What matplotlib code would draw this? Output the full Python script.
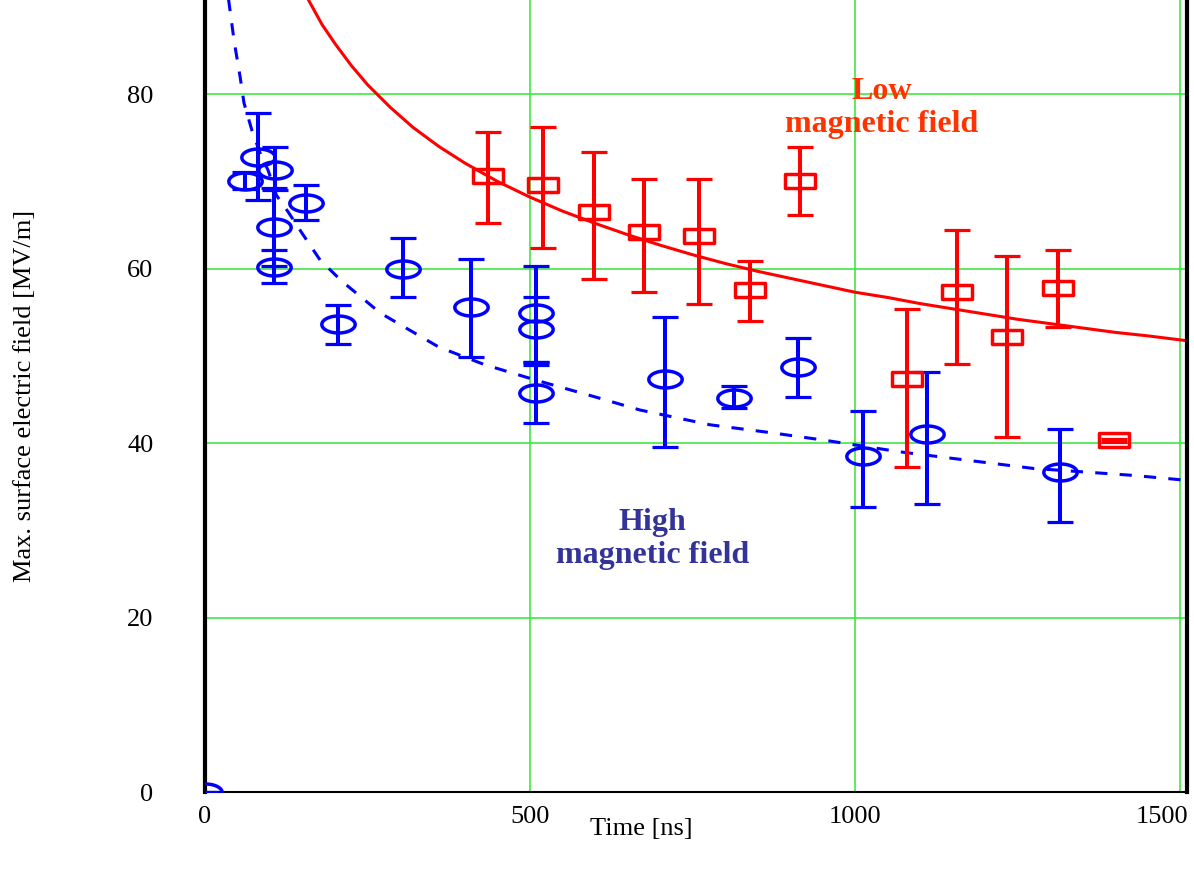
import numpy as np
import matplotlib
matplotlib.use('Agg')
import matplotlib.pyplot as plt
from matplotlib.path import Path
from matplotlib.transforms import ScaledTranslation

# ---------------- data ----------------
# High magnetic field measurements (blue ellipses)
blue_t = [62, 82, 108, 106, 106, 156, 204, 304, 410, 509, 509, 509, 708, 814, 913, 1012, 1111, 1316, 0]
blue_e = [70.1, 72.8, 71.3, 64.8, 60.2, 67.5, 53.6, 60.0, 55.6, 54.9, 53.1, 45.7, 47.4, 45.2, 48.7, 38.5, 41.0, 36.7, 0.0]
blue_err_lo = [1.0, 4.9, 2.3, 4.5, 1.8, 1.9, 2.2, 3.2, 5.7, 5.6, 4.2, 3.4, 7.8, 1.2, 3.4, 5.8, 8.0, 5.8, 0.0]
blue_err_hi = [1.0, 5.0, 2.7, 4.5, 1.9, 2.1, 2.2, 3.5, 5.5, 5.4, 3.7, 3.6, 7.1, 1.3, 3.4, 5.2, 7.1, 4.9, 0.0]

# Low magnetic field measurements (red rectangles)
red_t = [435, 520, 598, 676, 760, 838, 916, 1080, 1157, 1234, 1313, 1398]
red_e = [70.6, 69.6, 66.5, 64.2, 63.7, 57.6, 70.1, 47.3, 57.3, 52.2, 57.8, 40.3]
red_err_lo = [5.4, 7.2, 7.7, 6.9, 7.7, 3.6, 3.9, 10.0, 8.2, 11.5, 4.5, 0.2]
red_err_hi = [5.1, 6.6, 6.9, 6.1, 6.6, 3.3, 3.8, 8.1, 7.1, 9.2, 4.3, 0.2]

# Fitted curves
red_curve_t = [160, 180, 200, 225, 250, 285, 320, 360, 400, 450, 500, 550, 600, 650, 700,
               750, 800, 850, 900, 950, 1000, 1050, 1100, 1150, 1200, 1250, 1300, 1350,
               1400, 1450, 1515]
red_curve_e = [90.7, 88.0, 85.8, 83.3, 81.1, 78.5, 76.2, 74.0, 72.1, 70.0, 68.2, 66.6, 65.2,
               63.9, 62.7, 61.6, 60.6, 59.7, 58.9, 58.1, 57.3, 56.7, 56.0, 55.4, 54.8, 54.2,
               53.7, 53.2, 52.7, 52.3, 51.7]

blue_curve_t = [36, 45, 54, 60, 72, 87, 97, 110, 128, 149, 177, 210, 270, 360, 430, 510,
                600, 669, 777, 870, 956, 1069, 1274, 1428, 1515]
blue_curve_e = [91.0, 86.0, 82.0, 79.0, 75.9, 72.8, 71.3, 68.4, 66.5, 64.1, 61.0, 58.6,
                54.9, 51.0, 49.0, 47.2, 45.3, 43.8, 42.1, 41.2, 40.3, 39.0, 37.1, 36.3, 35.7]

x_ticks = [0, 500, 1000, 1500]
y_ticks = [0, 20, 40, 60, 80]

# ---------------- style ----------------
plt.rcParams['font.family'] = ['Liberation Serif', 'DejaVu Serif']

fig = plt.figure(figsize=(11.94, 8.71), dpi=100)
ax = fig.add_axes([205 / 1194, 1 - 792 / 871, (1187 - 205) / 1194, 792 / 871])
ax.set_xlim(0, 1511)
ax.set_ylim(0, 90.8)

ax.set_xticks(x_ticks)
ax.set_yticks(y_ticks)
ax.grid(True, color='#33e633', lw=1.1, zorder=0)
ax.set_axisbelow(True)
ax.tick_params(axis='both', length=0, labelsize=19)
ax.tick_params(axis='y', pad=37)
ax.tick_params(axis='x', pad=10)

# last x tick label is right-aligned to the plot edge
fig.canvas.draw()
last = ax.get_xticklabels()[-1]
last.set_horizontalalignment('right')
last.set_transform(last.get_transform() + ScaledTranslation(8 / 100, 0, fig.dpi_scale_trans))

for side in ['left', 'right']:
    ax.spines[side].set_linewidth(3.0)
ax.spines['bottom'].set_linewidth(1.5)
ax.spines['top'].set_visible(False)

# marker shapes
th = np.linspace(0, 2 * np.pi, 80)
ellipse = Path(np.column_stack([1.1 * np.cos(th), 0.56 * np.sin(th)]), closed=True)
rect = Path([(-1.3, -0.56), (1.3, -0.56), (1.3, 0.56), (-1.3, 0.56), (-1.3, -0.56)], closed=True)

# curves
ax.plot(red_curve_t, red_curve_e, color='#ff0000', lw=2.2, zorder=2)
ax.plot(blue_curve_t, blue_curve_e, color='#0000ff', lw=2.2, ls=(0, (4, 4)), zorder=2)

# data points
ax.errorbar(blue_t, blue_e, yerr=[blue_err_lo, blue_err_hi], fmt='none',
            ecolor='#0000ff', elinewidth=2.9, capsize=9.5, capthick=2.3, zorder=3)
ax.plot(blue_t, blue_e, ls='none', marker=ellipse, ms=24, mfc='none', mec='#0000ff',
        mew=2.5, zorder=4)

ax.errorbar(red_t, red_e, yerr=[red_err_lo, red_err_hi], fmt='none',
            ecolor='#ff0000', elinewidth=2.9, capsize=9.5, capthick=2.3, zorder=3)
ax.plot(red_t, red_e, ls='none', marker=rect, ms=22, mfc='none', mec='#ff0000',
        mew=2.5, zorder=4)

# annotations
ax.text(1041, 78.4, 'Low\nmagnetic field', color='#ff3300', fontsize=23,
        fontweight='bold', ha='center', va='center', linespacing=1.2, zorder=5)
ax.text(688, 29.0, 'High\nmagnetic field', color='#333399', fontsize=23,
        fontweight='bold', ha='center', va='center', linespacing=1.2, zorder=5)

fig.text(641 / 1194, 1 - 829 / 871, 'Time [ns]', fontsize=19, ha='center', va='center')
fig.text(25 / 1194, 1 - 396 / 871, 'Max. surface electric field [MV/m]', fontsize=19,
         ha='center', va='center', rotation=90)

fig.savefig('out.png', dpi=100)
